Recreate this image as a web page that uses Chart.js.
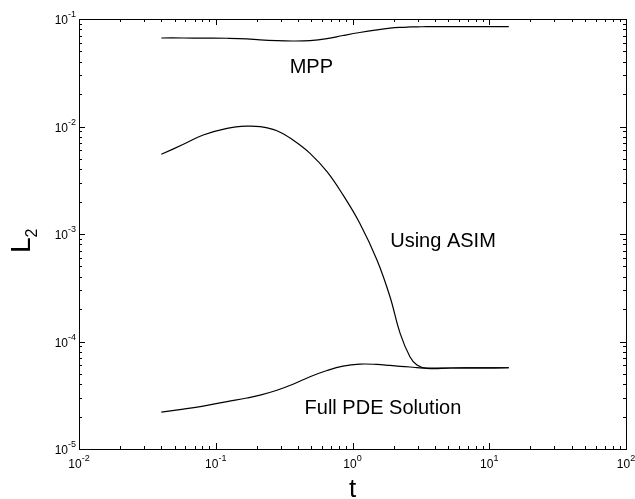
<!DOCTYPE html>
<html>
<head>
<meta charset="utf-8">
<script src="https://cdn.jsdelivr.net/npm/chart.js@4/dist/chart.umd.min.js"></script>
<style>
  html, body { margin: 0; padding: 0; background: #fff; }
</style>
</head>
<body>
<canvas id="plot" width="635" height="499"></canvas>
<script>
// time values (t) shared by the three curves
var tValues = [0.04, 0.058, 0.081, 0.121, 0.169, 0.211, 0.28, 0.367, 0.489, 0.651, 0.852,
               1.13, 1.51, 1.88, 2.23, 2.63, 2.96, 3.5, 5.2, 8.6, 13.9];

var mpp  = [6.66e-2, 6.66e-2, 6.64e-2, 6.62e-2, 6.54e-2, 6.39e-2, 6.28e-2, 6.24e-2, 6.30e-2, 6.57e-2, 7.02e-2,
            7.49e-2, 7.93e-2, 8.22e-2, 8.36e-2, 8.43e-2, 8.46e-2, 8.48e-2, 8.48e-2, 8.48e-2, 8.48e-2];
var asim = [5.51e-3, 6.83e-3, 8.34e-3, 9.62e-3, 1.008e-2, 9.96e-3, 9.14e-3, 7.49e-3, 5.63e-3, 3.80e-3, 2.31e-3,
            1.258e-3, 5.73e-4, 2.61e-4, 1.19e-4, 7.22e-5, 6.04e-5, 5.63e-5, 5.67e-5, 5.68e-5, 5.70e-5];
var pde  = [2.20e-5, 2.35e-5, 2.51e-5, 2.76e-5, 2.98e-5, 3.17e-5, 3.52e-5, 4.00e-5, 4.70e-5, 5.37e-5, 5.90e-5,
            6.16e-5, 6.12e-5, 5.99e-5, 5.88e-5, 5.79e-5, 5.72e-5, 5.65e-5, 5.67e-5, 5.68e-5, 5.70e-5];

// decade exponents for the tick labels
var xDecades = [-2, -1, 0, 1, 2];
var yDecades = [-5, -4, -3, -2, -1];

// curve labels, placed in data coordinates
var notes = [
  { text: "MPP", t: 0.5, v: 0.0355 },
  { text: "Using ASIM", t: 4.59, v: 8.6e-4 },
  { text: "Full PDE Solution", t: 1.67, v: 2.4e-5 }
];

function pts(arr) {
  return tValues.map(function (t, i) { return { x: t, y: arr[i] }; });
}

var FONT = '"Liberation Sans", Arial, Helvetica, sans-serif';

// frame, inward ticks (all four sides), labels with superscripts
var framePlugin = {
  id: 'frame',
  afterDraw: function (chart) {
    var c = chart.ctx, a = chart.chartArea;
    var xs = chart.scales.x, ys = chart.scales.y;
    c.save();
    c.strokeStyle = '#000';
    c.lineWidth = 1;
    c.strokeRect(a.left + 0.5, a.top + 0.5, a.right - a.left, a.bottom - a.top);

    c.beginPath();
    for (var d = -2; d <= 2; d++) {
      for (var m = 1; m <= 9; m++) {
        var v = m * Math.pow(10, d);
        if (v > 100 + 1e-9) break;
        var px = Math.round(xs.getPixelForValue(v)) + 0.5;
        var len = m === 1 ? 6 : 3;
        c.moveTo(px, a.bottom); c.lineTo(px, a.bottom - len);
        c.moveTo(px, a.top); c.lineTo(px, a.top + len);
      }
    }
    for (var e = -5; e <= -1; e++) {
      for (var k = 1; k <= 9; k++) {
        var w = k * Math.pow(10, e);
        if (w > 0.1 + 1e-12) break;
        var py = Math.round(ys.getPixelForValue(w)) + 0.5;
        var l2 = k === 1 ? 6 : 3;
        c.moveTo(a.left, py); c.lineTo(a.left + l2, py);
        c.moveTo(a.right, py); c.lineTo(a.right - l2, py);
      }
    }
    c.stroke();

    c.fillStyle = '#000';
    c.textBaseline = 'alphabetic';
    // x tick labels
    xDecades.forEach(function (d) {
      var px = xs.getPixelForValue(Math.pow(10, d));
      c.font = '12px ' + FONT;
      var wb = c.measureText('10').width;
      c.font = '9px ' + FONT;
      var ex = String(d);
      var we = c.measureText(ex).width;
      var x0 = px - (wb + we) / 2;
      c.font = '12px ' + FONT;
      c.textAlign = 'left';
      c.fillText('10', x0, a.bottom + 19);
      c.font = '9px ' + FONT;
      c.fillText(ex, x0 + wb, a.bottom + 12);
    });
    // y tick labels
    yDecades.forEach(function (d) {
      var py = ys.getPixelForValue(Math.pow(10, d));
      var ex = String(d);
      c.font = '9px ' + FONT;
      var we = c.measureText(ex).width;
      c.font = '12px ' + FONT;
      var wb = c.measureText('10').width;
      var xr = a.left - 3;
      c.textAlign = 'left';
      c.fillText('10', xr - we - wb, py + 5);
      c.font = '9px ' + FONT;
      c.fillText(ex, xr - we, py - 2);
    });

    // axis titles
    c.font = '26px ' + FONT;
    c.textAlign = 'center';
    c.fillText('t', (a.left + a.right) / 2, 497);

    c.save();
    c.translate(30, 253);
    c.rotate(-Math.PI / 2);
    c.textAlign = 'left';
    c.font = '28px ' + FONT;
    c.fillText('L', 0, 0);
    var lw = c.measureText('L').width;
    c.font = '16px ' + FONT;
    c.fillText('2', lw, 7);
    c.restore();

    // curve labels
    c.font = '20px ' + FONT;
    c.textAlign = 'center';
    c.textBaseline = 'middle';
    notes.forEach(function (n) {
      c.fillText(n.text, xs.getPixelForValue(n.t), ys.getPixelForValue(n.v));
    });
    c.restore();
  }
};

function series(label, arr) {
  return {
    label: label,
    data: pts(arr),
    borderColor: '#000',
    borderWidth: 1.2,
    pointRadius: 0,
    fill: false,
    tension: 0.4
  };
}

new Chart(document.getElementById('plot'), {
  type: 'line',
  data: {
    datasets: [
      series('MPP', mpp),
      series('Using ASIM', asim),
      series('Full PDE Solution', pde)
    ]
  },
  options: {
    responsive: false,
    animation: false,
    devicePixelRatio: 1,
    layout: { padding: { left: 79, right: 9, top: 19, bottom: 50 } },
    plugins: { legend: { display: false }, tooltip: { enabled: false } },
    scales: {
      x: { type: 'logarithmic', min: 0.01, max: 100, display: false },
      y: { type: 'logarithmic', min: 1e-5, max: 0.1, display: false }
    }
  },
  plugins: [framePlugin]
});
</script>
</body>
</html>
